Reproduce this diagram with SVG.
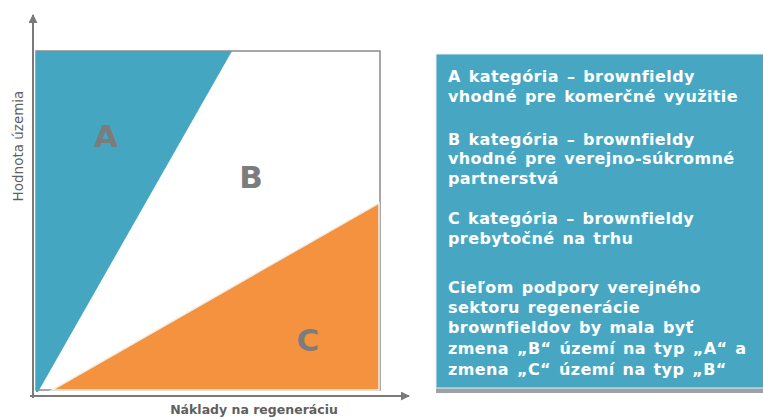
<svg xmlns="http://www.w3.org/2000/svg" width="763" height="420" viewBox="0 0 763 420">
<style>
.big{font-family:"DejaVu Sans","Liberation Sans",sans-serif;font-weight:bold;font-size:31px;fill:#7c7c7c;text-anchor:middle}
.ax{font-family:"DejaVu Sans","Liberation Sans",sans-serif;fill:#5f5f5f;text-anchor:middle}
.pt{font-family:"DejaVu Sans","Liberation Sans",sans-serif;font-weight:bold;font-size:16px;letter-spacing:0.4px;word-spacing:2px;fill:#ffffff}
</style>
<defs>
<marker id="arr" viewBox="0 0 10 10" refX="9" refY="5" markerWidth="9" markerHeight="9" markerUnits="userSpaceOnUse" orient="auto">
<path d="M0,0 L10,5 L0,10 z" fill="#7a7a7a"/>
</marker>
</defs>
<rect width="763" height="420" fill="#ffffff"/>
<g id="chart">
<rect x="36" y="51" width="344" height="339" fill="none" stroke="#8a8a8a" stroke-width="1.5"/>
<polygon id="regionA" points="36,51 232,51 38,392 36,392" fill="#45a6c2"/>
<polygon id="regionC" points="52,390 379,390 379,203" fill="#f59240" stroke="#f2efe8" stroke-width="1.5"/>
<text class="big" x="106" y="147">A</text>
<text class="big" x="251" y="188">B</text>
<text class="big" x="308" y="351">C</text>
</g>
<g id="axes">
<line x1="33" y1="398" x2="33" y2="15" stroke="#7a7a7a" stroke-width="2" marker-end="url(#arr)"/>
<line x1="30" y1="396" x2="409" y2="396" stroke="#7a7a7a" stroke-width="2" marker-end="url(#arr)"/>
<text class="ax" font-size="13.5" transform="translate(23,146) rotate(-90)">Hodnota územia</text>
<text class="ax" font-size="12.5" x="254" y="414" font-weight="bold">Náklady na regeneráciu</text>
</g>
<g id="legend">
<rect x="436" y="56" width="330" height="337" fill="#9aa4a8"/>
<rect x="436" y="54" width="330" height="334" fill="#47a7c3" stroke="#e6f0f3" stroke-width="1"/>
<text class="pt">
<tspan x="448" y="82">A kategória – brownfieldy</tspan>
<tspan x="448" y="102">vhodné pre komerčné využitie</tspan>
<tspan x="448" y="145">B kategória – brownfieldy</tspan>
<tspan x="448" y="164">vhodné pre verejno-súkromné</tspan>
<tspan x="448" y="184">partnerstvá</tspan>
<tspan x="448" y="224">C kategória – brownfieldy</tspan>
<tspan x="448" y="244">prebytočné na trhu</tspan>
<tspan x="448" y="293">Cieľom podpory verejného</tspan>
<tspan x="448" y="313">sektoru regenerácie</tspan>
<tspan x="448" y="333">brownfieldov by mala byť</tspan>
<tspan x="448" y="354">zmena „B“ území na typ „A“  a</tspan>
<tspan x="448" y="375">zmena „C“ území na typ „B“</tspan>
</text>
</g>
</svg>
